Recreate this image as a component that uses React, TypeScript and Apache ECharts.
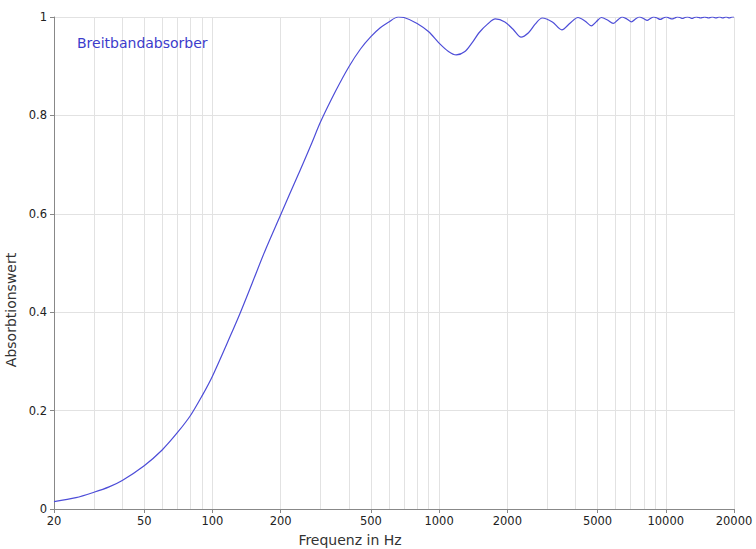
import React, { useEffect, useRef } from "react";
import * as echarts from "echarts";

const seriesName = "Breitbandabsorber";

const freqHz = [
  20, 25, 30, 35, 40, 50, 60, 70, 80, 90, 100, 120, 133, 150, 170, 200, 237, 250, 275, 300, 350,
  400, 450, 500, 550, 600, 660, 700, 800, 900, 1000, 1100, 1190, 1300, 1400, 1500, 1640, 1770,
  1950, 2120, 2300, 2480, 2660, 2850, 3160, 3480, 3790, 4100, 4400, 4700, 4950, 5200, 5530,
  5860, 6140, 6420, 6740, 7060, 7350, 7650, 7960, 8280, 8560, 8850, 9150, 9450, 9750, 10050,
  10350, 10650, 10950, 11250, 11550, 11850, 12150, 12450, 12750, 13050, 13350, 13650, 13950,
  14250, 14550, 14850, 15150, 15450, 15750, 16050, 16350, 16650, 16950, 17250, 17550, 17850,
  18150, 18450, 18750, 19050, 19350, 19650, 20000,
];

const absorption = [
  0.015, 0.023, 0.034, 0.045, 0.058, 0.088, 0.12, 0.155, 0.19, 0.23, 0.27, 0.352, 0.4, 0.46,
  0.523, 0.598, 0.676, 0.7, 0.745, 0.787, 0.85, 0.899, 0.935, 0.96, 0.978, 0.99, 1.0, 0.999,
  0.987, 0.97, 0.947, 0.93, 0.923, 0.93, 0.948, 0.968, 0.986, 0.996, 0.99, 0.975, 0.959, 0.968,
  0.986, 0.998, 0.99, 0.974, 0.988, 0.999, 0.992, 0.982, 0.991, 0.999, 0.994, 0.987, 0.994,
  1.0, 0.996, 0.99, 0.996, 1.0, 0.997, 0.993, 0.997, 1.0, 0.998, 0.995, 0.998, 1.0, 0.998,
  0.996, 0.998, 1.0, 0.999, 0.997, 0.999, 1.0, 0.999, 0.997, 0.999, 1.0, 0.999, 0.998, 0.999,
  1.0, 0.999, 0.998, 0.999, 1.0, 0.999, 0.998, 0.999, 1.0, 0.999, 0.998, 0.999, 1.0, 0.999,
  0.998, 0.999, 1.0, 1.0,
];

const xTickLabels = [20, 50, 100, 200, 500, 1000, 2000, 5000, 10000, 20000];
const xGridLines = [
  30, 40, 50, 60, 70, 80, 90, 100, 200, 300, 400, 500, 600, 700, 800, 900, 1000, 2000, 3000,
  4000, 5000, 6000, 7000, 8000, 9000, 10000, 20000,
];

const FONT = "DejaVu Sans, Verdana, sans-serif";
const LINE_COLOR = "#4d4dd8";

export default function App() {
  const ref = useRef<HTMLDivElement>(null);

  useEffect(() => {
    document.body.style.margin = "0";
    if (!ref.current) return;
    const chart = echarts.init(ref.current, undefined, { renderer: "svg" });
    const data = freqHz.map((f, i) => [f, absorption[i]]);
    chart.setOption({
      animation: false,
      backgroundColor: "#ffffff",
      title: {
        text: seriesName,
        left: 72,
        top: 31,
        textStyle: { color: "#3c3ccc", fontSize: 14, fontWeight: "normal", fontFamily: FONT },
      },
      grid: {
        left: 54,
        right: 22,
        top: 17,
        bottom: 40,
        containLabel: false,
        outerBoundsMode: "none",
      },
      xAxis: {
        type: "log",
        logBase: 10,
        min: 20,
        max: 20000,
        name: "Frequenz in Hz",
        nameLocation: "middle",
        nameGap: 24,
        nameTextStyle: { color: "#333", fontSize: 14, fontFamily: FONT, padding: [0, 88, 0, 0] },
        axisLine: { show: true, lineStyle: { color: "#888", width: 1 } },
        axisTick: { show: true, length: 4, customValues: xTickLabels, lineStyle: { color: "#888" } },
        axisLabel: {
          customValues: xTickLabels,
          color: "#222",
          fontSize: 11.5,
          fontFamily: FONT,
          margin: 6,
          formatter: (v: number) => String(Math.round(v)),
        },
        splitLine: { show: false },
        minorSplitLine: { show: false },
      },
      yAxis: {
        type: "value",
        min: 0,
        max: 1,
        interval: 0.2,
        name: "Absorbtionswert",
        nameLocation: "middle",
        nameGap: 29,
        nameTextStyle: { color: "#333", fontSize: 14, fontFamily: FONT, padding: [0, 94, 0, 0] },
        axisLine: { show: true, lineStyle: { color: "#888", width: 1 } },
        axisTick: { show: true, length: 4, lineStyle: { color: "#888" } },
        axisLabel: { color: "#222", fontSize: 11.5, fontFamily: FONT, margin: 7 },
        splitLine: { show: true, lineStyle: { color: "#e2e2e2", width: 1 } },
      },
      series: [
        {
          name: seriesName,
          type: "line",
          data,
          showSymbol: false,
          smooth: 0.3,
          lineStyle: { color: LINE_COLOR, width: 1.2 },
          itemStyle: { color: LINE_COLOR },
          z: 3,
          markLine: {
            silent: true,
            symbol: ["none", "none"],
            z: 1,
            label: { show: false },
            lineStyle: { color: "#e2e2e2", type: "solid", width: 1 },
            data: xGridLines.map((f) => ({ xAxis: f })),
          },
        },
      ],
    });
    return () => chart.dispose();
  }, []);

  return <div ref={ref} style={{ width: 756, height: 549 }} />;
}
